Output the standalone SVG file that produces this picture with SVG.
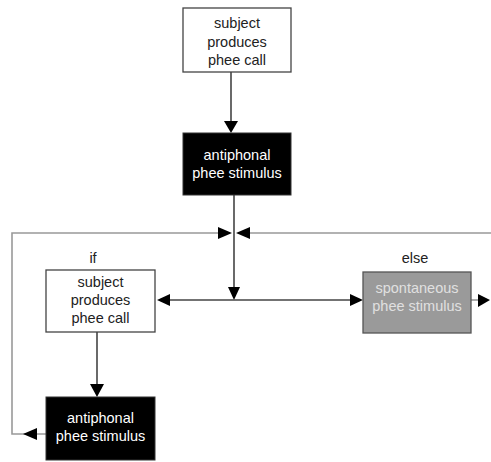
<svg xmlns="http://www.w3.org/2000/svg" width="491" height="462" viewBox="0 0 491 462">
<style>
text{font-family:"Liberation Sans",Arial,sans-serif;font-size:14.5px;text-anchor:middle}
.dk{fill:#222}
.wt{fill:#fff}
.lg{fill:#e0e0e0}
.wbox{fill:#fff;stroke:#444;stroke-width:1.3}
.bbox{fill:#000;stroke:#333;stroke-width:1}
.gbox{fill:#9a9a9a;stroke:#555;stroke-width:1.3}
.main{stroke:#444;stroke-width:1.6;fill:none}
.fb{stroke:#999;stroke-width:1.6;fill:none}
.head{fill:#000}
</style>
<rect width="491" height="462" fill="#fff"/>
<g id="connectors">
<line class="main" x1="231" y1="72" x2="231" y2="122"/>
<polygon class="head" points="224,121 238,121 231,133"/>
<line class="main" x1="234" y1="195" x2="234" y2="288"/>
<polygon class="head" points="228,287 240,287 234,300"/>
<line class="main" x1="168" y1="300" x2="352" y2="300"/>
<polygon class="head" points="170,294 170,306 157,300"/>
<polygon class="head" points="350,294 350,306 363,300"/>
<line class="main" x1="97" y1="332" x2="97" y2="385"/>
<polygon class="head" points="90,384 104,384 97,397"/>
<polyline class="fb" points="46,434 12,434 12,233 220,233"/>
<polygon class="head" points="218,227 218,239 232,233"/>
<polyline class="fb" points="471,300 479,300"/>
<polygon class="head" points="478,294 478,307 490,300"/>
<line class="fb" x1="491" y1="233" x2="248" y2="233"/>
<polygon class="head" points="250,227 250,239 236,233"/>
<polygon class="head" points="37,428 37,440 23,434"/>
</g>
<g id="top-subject">
<rect class="wbox" x="183" y="8" width="108" height="64"/>
<text class="dk" x="237" y="28">subject</text>
<text class="dk" x="237" y="46.5">produces</text>
<text class="dk" x="237" y="65">phee call</text>
</g>
<g id="top-antiphonal">
<rect class="bbox" x="183" y="133" width="108" height="62"/>
<text class="wt" x="237" y="160">antiphonal</text>
<text class="wt" x="237" y="178">phee stimulus</text>
</g>
<g id="if-label"><text class="dk" x="93" y="263">if</text></g>
<g id="else-label"><text class="dk" x="415" y="263">else</text></g>
<g id="if-subject">
<rect class="wbox" x="46" y="270" width="109" height="62"/>
<text class="dk" x="100.5" y="287">subject</text>
<text class="dk" x="100.5" y="305">produces</text>
<text class="dk" x="100.5" y="323">phee call</text>
</g>
<g id="spontaneous">
<rect class="gbox" x="363" y="272" width="108" height="61"/>
<text class="lg" x="417" y="293">spontaneous</text>
<text class="lg" x="417" y="311">phee stimulus</text>
</g>
<g id="bottom-antiphonal">
<rect class="bbox" x="46" y="397" width="109" height="63"/>
<text class="wt" x="100.5" y="423">antiphonal</text>
<text class="wt" x="100.5" y="441">phee stimulus</text>
</g>
</svg>
